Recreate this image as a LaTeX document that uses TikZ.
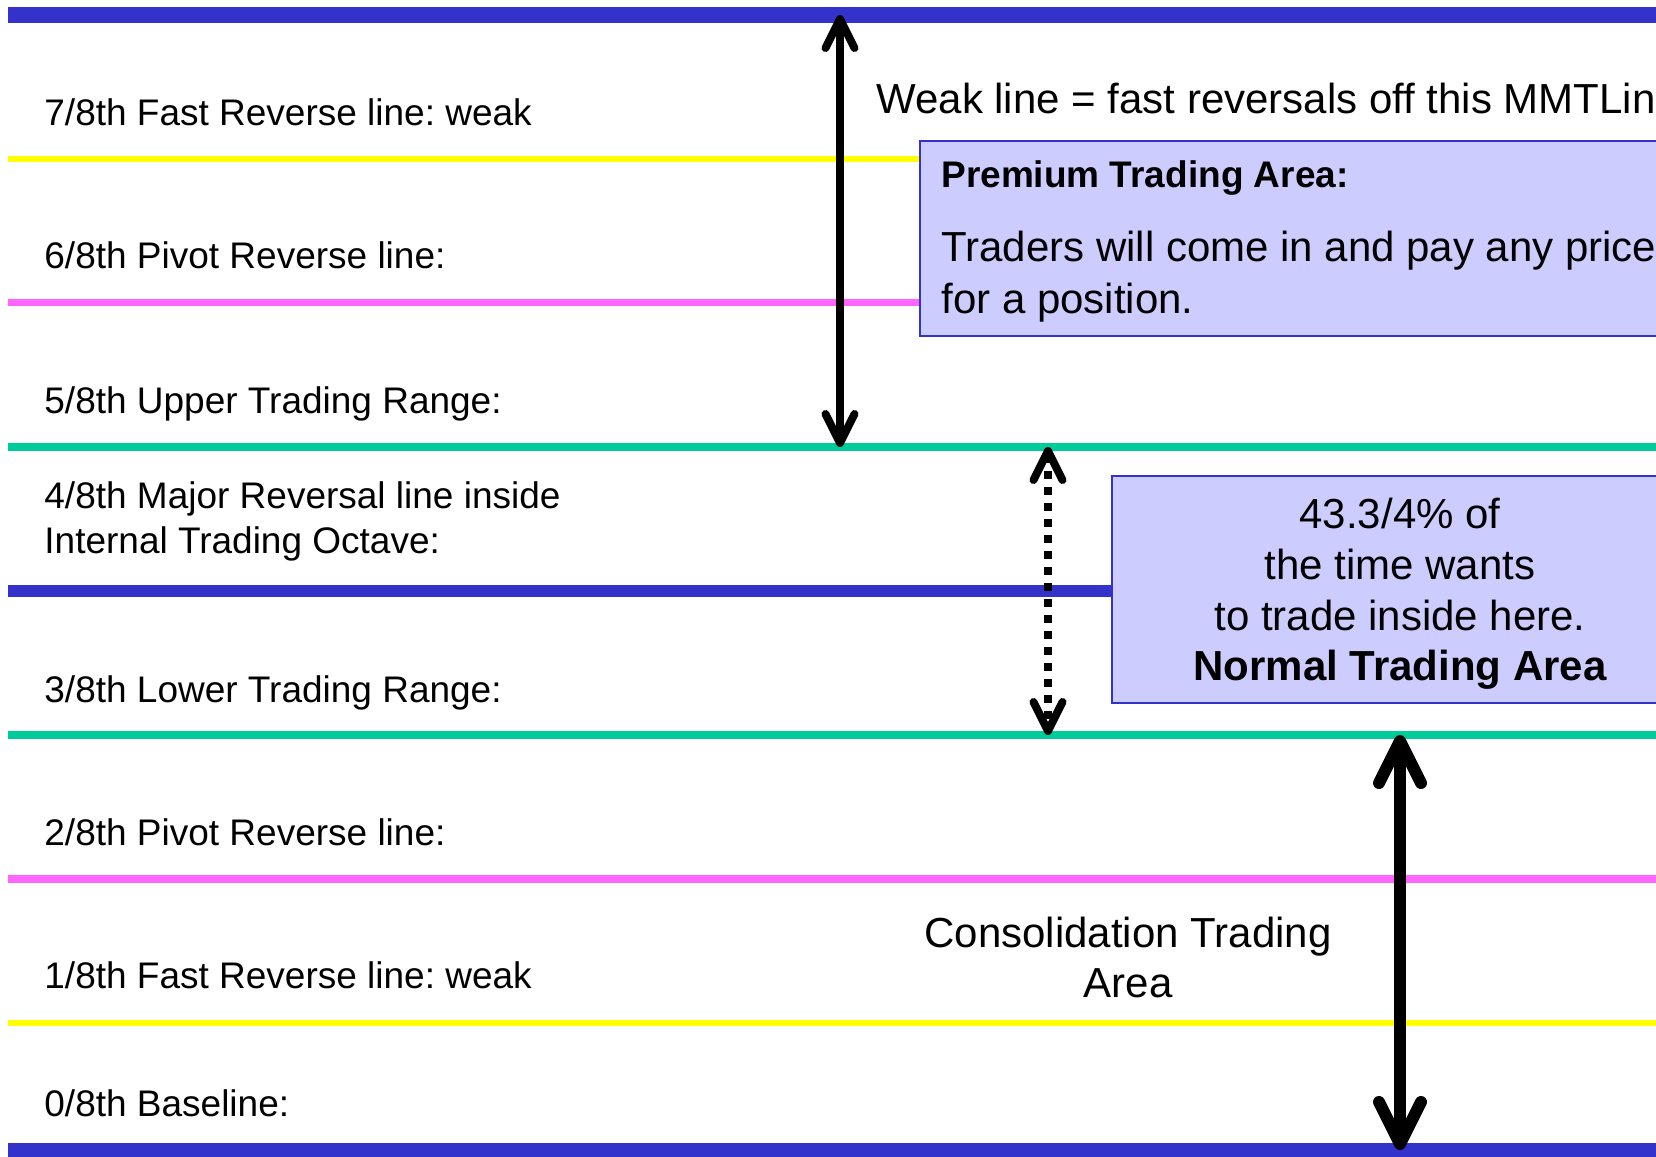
\documentclass[tikz,border=0pt]{standalone}
\usepackage{fontspec}
\setmainfont{Liberation Sans}
\usetikzlibrary{arrows.meta}
\definecolor{mblue}{HTML}{3333CC}
\definecolor{myellow}{HTML}{FFFF00}
\definecolor{mmagenta}{HTML}{FF66FF}
\definecolor{mgreen}{HTML}{00CC99}
\definecolor{boxfill}{HTML}{CCCCFF}
\frenchspacing
\begin{document}
\begin{tikzpicture}[x=0.5pt,y=-0.5pt,
  lbl/.style={anchor=base west, inner sep=0pt, font=\fontsize{18.5}{22}\selectfont},
  bigtxt/.style={inner sep=0pt, font=\fontsize{21}{25}\selectfont},
  infobox/.style={draw=mblue, line width=0.75pt, fill=boxfill, anchor=north west, inner sep=0pt, outer sep=0pt},
  arrA/.style={line width=4pt, black, {Straight Barb[length=14.5pt,width=14.5pt,round]}-{Straight Barb[length=14.5pt,width=14.5pt,round]}},
  arrB/.style={line width=6pt, black, {Straight Barb[length=21pt,width=21pt,round]}-{Straight Barb[length=21pt,width=21pt,round]}},
  dotarr/.style={arrA, dash pattern=on 3.75pt off 4.25pt},
  lvlblue/.style={draw=mblue, line width=#1},
  lvlyellow/.style={draw=myellow, line width=3pt},
  lvlmag/.style={draw=mmagenta, line width=3.75pt},
  lvlgreen/.style={draw=mgreen, line width=4pt}
]
\useasboundingbox (0,0) rectangle (1656,1157);
\clip (0,0) rectangle (1656,1157);
\fill[white] (0,0) rectangle (1656,1157);

% level lines
\path[lvlblue=8pt]   (8,15)   -- (1700,15);
\path[lvlyellow]     (8,159)  -- (1700,159);
\path[lvlmag]        (8,302.5)-- (1700,302.5);
\path[lvlgreen]      (8,447)  -- (1700,447);
\path[lvlblue=6pt]   (8,591)  -- (1700,591);
\path[lvlgreen]      (8,735)  -- (1700,735);
\path[lvlmag]        (8,879)  -- (1700,879);
\path[lvlyellow]     (8,1023) -- (1700,1023);
\path[lvlblue=8pt]   (8,1150.5) -- (1700,1150.5);

% labels
\node[lbl] (l7) at (44,125) {7/8th Fast Reverse line: weak};
\node[lbl] (l6) at (44,268) {6/8th Pivot Reverse line:};
\node[lbl] (l5) at (44,413) {5/8th Upper Trading Range:};
\node[lbl] (l4a) at (44,508) {4/8th Major Reversal line inside};
\node[lbl] (l4b) at (44,553) {Internal Trading Octave:};
\node[lbl] (l3) at (44,702) {3/8th Lower Trading Range:};
\node[lbl] (l2) at (44,845) {2/8th Pivot Reverse line:};
\node[lbl] (l1) at (44,988) {1/8th Fast Reverse line: weak};
\node[lbl] (l0) at (44,1116) {0/8th Baseline:};

% weak line note
\node[bigtxt, anchor=base west] (weak) at (876,113) {Weak line = fast reversals off this MMTLine};

% premium box
\node[infobox, minimum width=420pt, minimum height=97.5pt] (prem) at (920,141) {};
\node[lbl, font=\bfseries\fontsize{18.5}{22}\selectfont] (premh) at (941,187) {Premium Trading Area:};
\node[bigtxt, anchor=base west] (prem1) at (941,261) {Traders will come in and pay any price};
\node[bigtxt, anchor=base west] (prem2) at (941,313) {for a position.};

% normal box
\node[infobox, minimum width=288pt, minimum height=113.5pt] (norm) at (1112,476) {};
\node[bigtxt, anchor=base] (n1) at (1400,528) {43.3/4\% of};
\node[bigtxt, anchor=base] (n2) at (1400,579) {the time wants};
\node[bigtxt, anchor=base] (n3) at (1400,630) {to trade inside here.};
\node[bigtxt, anchor=base, font=\bfseries\fontsize{21}{25}\selectfont] (n4) at (1400,680) {Normal Trading Area};

% consolidation text
\node[bigtxt, anchor=base] (c1) at (1128,947) {Consolidation Trading};
\node[bigtxt, anchor=base] (c2) at (1128,997) {Area};

% arrows
\coordinate (pTop) at (840,15);
\coordinate (pFive) at (840,447);
\coordinate (dTop) at (1048,447);
\coordinate (dBot) at (1048,735);
\coordinate (cTop) at (1400,735);
\coordinate (cBot) at (1400,1150);
\draw[arrA] (pTop) -- (pFive);
\draw[dotarr] (dTop) -- (dBot);
\draw[arrB] (cTop) -- (cBot);
\end{tikzpicture}
\end{document}
